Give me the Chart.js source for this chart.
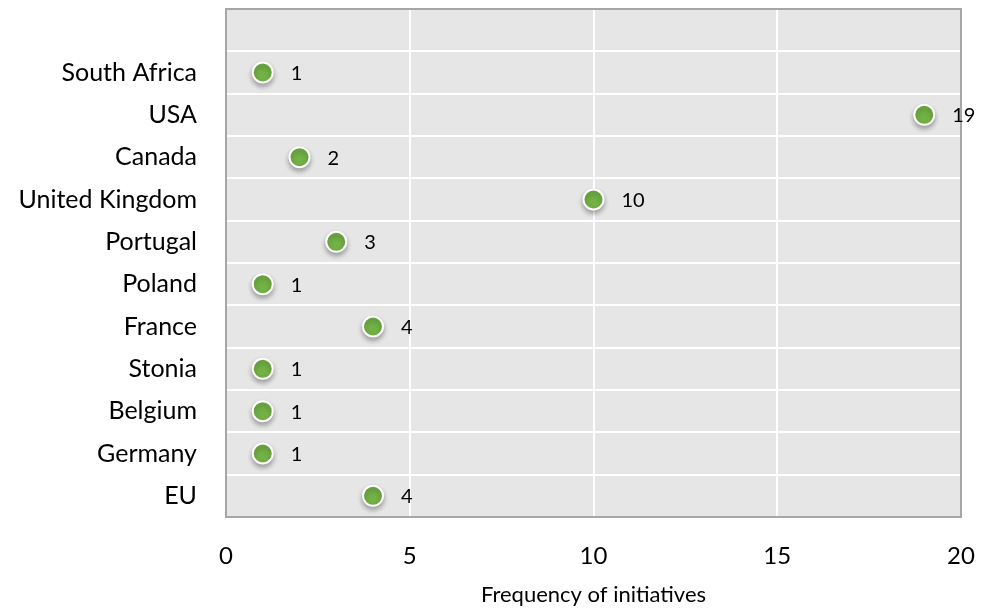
<!DOCTYPE html>
<html>
<head>
<meta charset="utf-8">
<script src="https://cdn.jsdelivr.net/npm/chart.js@4/dist/chart.umd.min.js"></script>
<style>
  html, body { margin: 0; padding: 0; background: #fff; }
  #wrap { width: 988px; height: 608px; position: relative; }
</style>
</head>
<body>
<div id="wrap"><canvas id="grafico"></canvas></div>
<script>
// top band is left empty like in the original
const paises = ['', 'South Africa', 'USA', 'Canada', 'United Kingdom', 'Portugal', 'Poland', 'France', 'Stonia', 'Belgium', 'Germany', 'EU'];
const iniciativas = [null, 1, 19, 2, 10, 3, 1, 4, 1, 1, 1, 4];
const ticksX = [0, 5, 10, 15, 20];
const tituloX = 'Frequency of initiatives';

const verde = '#72b145';
const fuente = 'Lato';

// fondo gris y borde del area del grafico
const fondoPlugin = {
  id: 'fondo',
  beforeDraw(chart) {
    const { ctx, chartArea: a } = chart;
    ctx.save();
    ctx.fillStyle = '#e6e6e6';
    ctx.fillRect(a.left, a.top, a.right - a.left, a.bottom - a.top);
    ctx.restore();
  },
  beforeDatasetsDraw(chart) {
    const { ctx, chartArea: a } = chart;
    ctx.save();
    ctx.strokeStyle = '#a6a6a6';
    ctx.lineWidth = 2;
    ctx.strokeRect(a.left, a.top, a.right - a.left, a.bottom - a.top);
    ctx.restore();
  }
};

// sombra bajo los puntos
const sombraPlugin = {
  id: 'sombra',
  beforeDatasetDraw(chart) {
    const ctx = chart.ctx;
    ctx.save();
    ctx.shadowColor = 'rgba(0,0,0,0.3)';
    ctx.shadowBlur = 5;
    ctx.shadowOffsetY = 3;
  },
  afterDatasetDraw(chart) {
    chart.ctx.restore();
  }
};

// etiquetas con el valor a la derecha de cada punto
const etiquetasPlugin = {
  id: 'etiquetas',
  afterDatasetsDraw(chart) {
    const { ctx } = chart;
    const meta = chart.getDatasetMeta(0);
    ctx.save();
    ctx.font = '20px ' + fuente;
    ctx.fillStyle = '#000';
    ctx.textAlign = 'left';
    ctx.textBaseline = 'middle';
    meta.data.forEach((p, i) => {
      const v = iniciativas[i];
      if (v === null) return;
      ctx.fillText(String(v), p.x + 28, p.y + 1);
    });
    ctx.restore();
  }
};

const ctx = document.getElementById('grafico').getContext('2d');
const grafico = new Chart(ctx, {
  type: 'line',
  data: {
    labels: paises,
    datasets: [{
      data: iniciativas,
      showLine: false,
      pointRadius: 10,
      pointHoverRadius: 10,
      pointBackgroundColor: verde,
      pointBorderColor: '#fff',
      pointBorderWidth: 2
    }]
  },
  plugins: [fondoPlugin, sombraPlugin, etiquetasPlugin],
  options: {
    indexAxis: 'y',
    responsive: true,
    maintainAspectRatio: false,
    animation: false,
    layout: { autoPadding: false, padding: { top: 9, right: 27, bottom: 0, left: 0 } },
    plugins: {
      legend: { display: false },
      tooltip: { enabled: false }
    },
    scales: {
      x: {
        type: 'linear',
        min: 0,
        max: 20,
        afterBuildTicks: (scale) => { scale.ticks = ticksX.map(v => ({ value: v })); },
        afterFit: (scale) => {
          scale.height = 91;
          scale.paddingLeft = 0;
          scale.paddingRight = 0;
        },
        grid: { color: '#ffffff', lineWidth: 2, drawTicks: false },
        border: { display: false },
        ticks: {
          color: '#000',
          padding: 25,
          font: { size: 24, family: fuente }
        },
        title: {
          display: true,
          text: tituloX,
          color: '#000',
          padding: { top: 0, bottom: 0 },
          font: { size: 22, family: fuente }
        }
      },
      y: {
        type: 'category',
        offset: true,
        afterFit: (scale) => {
          scale.width = 226;
          scale.paddingTop = 0;
          scale.paddingBottom = 0;
        },
        grid: { color: '#ffffff', lineWidth: 2, offset: true, drawTicks: false },
        border: { display: false },
        ticks: {
          color: '#000',
          padding: 29,
          autoSkip: false,
          font: { size: 25, family: fuente }
        }
      }
    }
  }
});
</script>
</body>
</html>
